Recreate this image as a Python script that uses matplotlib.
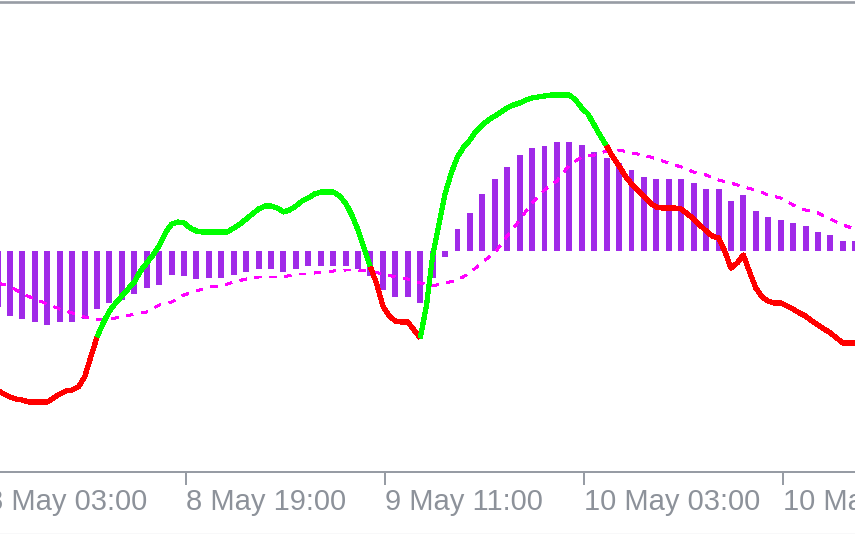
import numpy as np
import matplotlib
matplotlib.use('Agg')
import matplotlib.pyplot as plt
from matplotlib.lines import Line2D
import matplotlib.transforms as mtransforms

# histogram (one value per H1 bar, first bar = 8 May 04:00)
hist = [-56, -65, -68, -71, -74, -71, -71, -68, -58, -52,
        -49, -43, -37, -34, -24, -25, -28, -27, -27, -24,
        -21, -18, -18, -21, -18, -15, -15, -15, -15, -18,
        -25, -39, -46, -46, -52, -27, -6, 22, 38, 57,
        72, 84, 96, 103, 105, 109, 109, 106, 99, 93,
        88, 81, 74, 72, 72, 72, 68, 62, 62, 50,
        56, 40, 34, 31, 28, 25, 19, 16, 10, 10]

# signal line (one value per bar)
signal = [-32, -35, -43, -48, -53, -58, -62, -66, -69, -68,
          -66, -63, -61, -54, -51, -44, -40, -36, -35, -31,
          -28, -26, -26, -26, -23, -23, -21, -20, -19, -19,
          -20, -23, -26, -28, -32, -35, -32, -29, -22, -11,
          -2, 15, 31, 48, 61, 70, 86, 94, 96, 100,
          101, 98, 96, 92, 88, 84, 79, 76, 71, 68,
          64, 61, 56, 53, 46, 41, 38, 32, 26, 22]

# main line, two points per bar
line = [-139, -143, -146, -148, -149, -151, -151, -151, -151, -147,
        -143, -140, -139, -136, -126, -106, -86, -72, -60, -52,
        -45, -38, -31, -20, -12, -4, 5, 18, 27, 29,
        28, 23, 20, 19, 19, 19, 19, 19, 23, 27,
        32, 37, 42, 45, 45, 43, 39, 41, 45, 50,
        53, 57, 59, 59, 59, 55, 48, 36, 21, 2,
        -16, -33, -55, -65, -70, -71, -71, -79, -87, -55,
        -5, 26, 57, 78, 94, 104, 111, 120, 126, 131,
        135, 139, 143, 146, 148, 151, 153, 154, 155, 156,
        156, 156, 156, 151, 143, 137, 126, 115, 105, 94,
        85, 75, 67, 61, 55, 48, 44, 43, 43, 43,
        42, 37, 32, 26, 20, 15, 13, 0, -17, -12,
        -4, -21, -37, -46, -50, -52, -52, -55, -58, -62,
        -65, -70, -74, -78, -82, -87, -92, -92, -92]

# colour runs of the main line: index where each run starts
color_breaks = [0, 16, 60, 68, 98, len(line) - 1]
run_colors = ['#ff0000', '#00ff00', '#ff0000', '#00ff00', '#ff0000']

tick_bars = [-1, 15, 31, 47, 63]
tick_labels = ['8 May 03:00', '8 May 19:00', '9 May 11:00', '10 May 03:00', '10 May 19:00']

gray = '#979ca4'

fig = plt.figure(figsize=(8.55, 5.34), dpi=100)
ax = fig.add_axes([0, 62 / 534, 1, (534 - 62 - 1.5) / 534])

x_bar = np.arange(len(hist))
ax.bar(x_bar, hist, width=0.48, color='#a02ae8', linewidth=0, antialiased=False)

ax.plot(x_bar, signal, color='#ff00ff', lw=1.5, linestyle=(0, (3, 4)),
        antialiased=False)

x_line = np.arange(len(line)) / 2
y_line = np.array(line)
for b0, b1, c in zip(color_breaks[:-1], color_breaks[1:], run_colors):
    ax.plot(x_line[b0:b1 + 1], y_line[b0:b1 + 1], color=c, lw=3.0,
            solid_capstyle='butt', antialiased=False)

ax.set_xlim(0.1955, 68.98)
ax.set_ylim(-221, 249.5)
ax.set_yticks([])

ax.spines['left'].set_visible(False)
ax.spines['right'].set_visible(False)
ax.spines['top'].set_color(gray)
ax.spines['top'].set_linewidth(1.9)
ax.spines['bottom'].set_color(gray)
ax.spines['bottom'].set_linewidth(1.44)

# MT4 puts the time mark a hair right of the bar centre
tick_pos = [t + 0.16 for t in tick_bars]
ax.set_xticks([t for t in tick_pos if t > 0])
ax.set_xticklabels([])
ax.tick_params(axis='x', length=9.4, width=1.44, color=gray, direction='out')

trans = mtransforms.blended_transform_factory(ax.transData, ax.transAxes)
for t, lab in zip(tick_pos, tick_labels):
    ax.text(t + 0.02, -0.0808, lab, transform=trans, ha='left', va='baseline',
            fontsize=21, family='Liberation Sans', color='#8d929a', clip_on=False)

fig.add_artist(Line2D([0, 1], [0.5 / 534, 0.5 / 534], transform=fig.transFigure,
                      color='#8a8f96', lw=0.8))

fig.savefig('out.png', dpi=100)
